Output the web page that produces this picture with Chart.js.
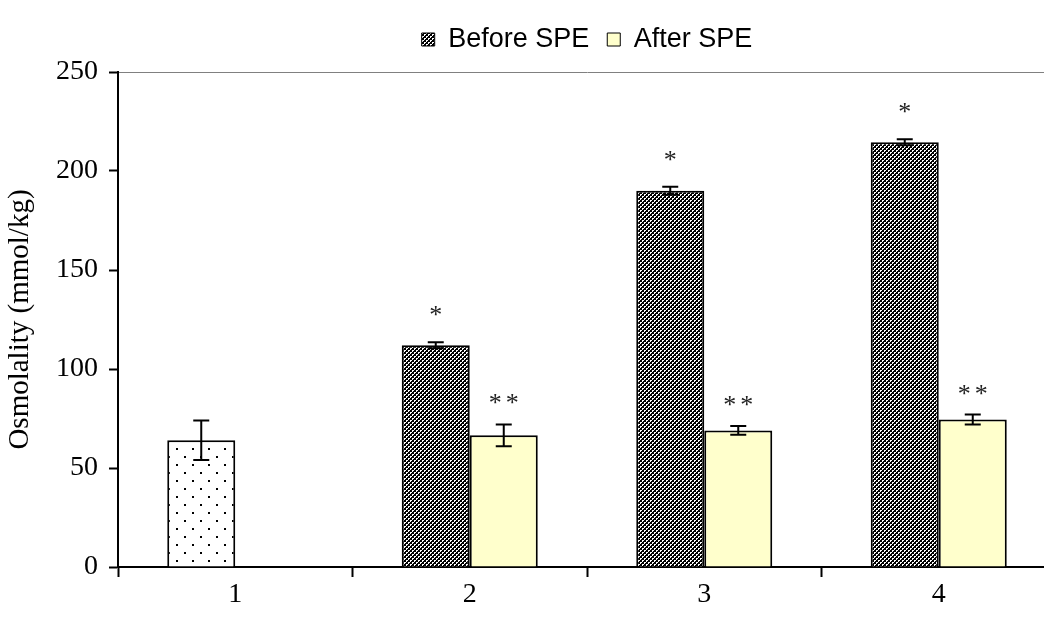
<!DOCTYPE html>
<html>
<head>
<meta charset="utf-8">
<script src="https://cdn.jsdelivr.net/npm/chart.js@4.4.0/dist/chart.umd.min.js"></script>
<style>
html,body{margin:0;padding:0;background:#fff;overflow:hidden;}
#wrap{width:1056px;height:624px;}
</style>
</head>
<body>
<div id="wrap"><canvas id="c" width="1056" height="624"></canvas></div>
<script>
// ---- data ----
const categories = ['1', '2', '3', '4'];
const beforeValues = [64, 112, 190, 214.5];
const beforeErrors = [10, 1.5, 2, 1.5];
const afterValues = [null, 66.5, 69, 74.5];
const afterErrors = [null, 5.5, 2.2, 2.5];
const beforeMarks = ['', '*', '*', '*'];
const afterMarks = ['', '**', '**', '**'];
const yTicks = [0, 50, 100, 150, 200, 250];

// ---- patterns ----
function makeChecker() {
  const c = document.createElement('canvas');
  c.width = 4; c.height = 4;
  const g = c.getContext('2d');
  g.fillStyle = '#fff'; g.fillRect(0, 0, 4, 4);
  g.fillStyle = '#000';
  for (let y = 0; y < 4; y++) for (let x = 0; x < 4; x++) {
    if ((Math.floor(x / 2) + Math.floor(y / 2)) % 2 === 0) g.fillRect(x, y, 1, 1);
  }
  g.fillRect(3, 1, 1, 1);
  g.fillRect(1, 3, 1, 1);
  return g.createPattern(c, 'repeat');
}
function makeDots() {
  const c = document.createElement('canvas');
  c.width = 16; c.height = 16;
  const g = c.getContext('2d');
  g.fillStyle = '#fff'; g.fillRect(0, 0, 16, 16);
  g.fillStyle = '#000';
  g.fillRect(0, 0, 2, 2);
  g.fillRect(8, 8, 2, 2);
  return g.createPattern(c, 'repeat');
}
const checker = makeChecker();
const dots = makeDots();
const legendFills = [checker, '#FFFFCC'];

const errorData = [beforeErrors, afterErrors];
const markData = [beforeMarks, afterMarks];

const legendSpace = {
  id: 'legendSpace',
  afterInit(chart) {
    const lg = chart.legend;
    if (lg && !lg._patched) {
      const orig = lg.fit.bind(lg);
      lg.fit = function () { orig(); this.height += 9; };
      lg._patched = true;
    }
  }
};

const errorBars = {
  id: 'errorBars',
  afterDatasetsDraw(chart) {
    const ctx = chart.ctx;
    const ys = chart.scales.y;
    ctx.save();
    chart.data.datasets.forEach((ds, di) => {
      const meta = chart.getDatasetMeta(di);
      meta.data.forEach((bar, i) => {
        const v = ds.data[i];
        const e = errorData[di][i];
        if (v == null) return;
        const x = bar.x;
        let topY = ys.getPixelForValue(v);
        if (e != null) {
          const yT = ys.getPixelForValue(v + e);
          const yB = ys.getPixelForValue(v - e);
          ctx.strokeStyle = '#000';
          ctx.lineWidth = 2;
          ctx.beginPath();
          ctx.moveTo(x, yT); ctx.lineTo(x, yB);
          ctx.moveTo(x - 8, yT); ctx.lineTo(x + 8, yT);
          ctx.moveTo(x - 8, yB); ctx.lineTo(x + 8, yB);
          ctx.stroke();
          topY = yT;
        }
        const m = markData[di][i];
        if (m) {
          ctx.fillStyle = '#222';
          ctx.font = '26px "Liberation Serif", "Times New Roman", serif';
          ctx.textAlign = 'center';
          ctx.textBaseline = 'alphabetic';
          if ('letterSpacing' in ctx) ctx.letterSpacing = m.length > 1 ? '4px' : '0px';
          const w = m.length > 1 ? 2 : 0;
          ctx.fillText(m, x + w, topY - (di === 0 ? 19 : 13));
          if ('letterSpacing' in ctx) ctx.letterSpacing = '0px';
        }
      });
    });
    ctx.restore();
  }
};

new Chart(document.getElementById('c'), {
  type: 'bar',
  data: {
    labels: categories,
    datasets: [
      {
        label: 'Before SPE',
        data: beforeValues,
        backgroundColor: (ctx) => (ctx.type === 'data' && ctx.dataIndex === 0) ? dots : checker,
        borderColor: '#000',
        borderWidth: 2,
        borderSkipped: 'start'
      },
      {
        label: 'After SPE',
        data: afterValues,
        backgroundColor: '#FFFFCC',
        borderColor: '#000',
        borderWidth: 2,
        borderSkipped: 'start'
      }
    ]
  },
  options: {
    responsive: false,
    animation: false,
    devicePixelRatio: 1,
    layout: { padding: { top: 8, left: 0, right: 0, bottom: 0 } },
    categoryPercentage: 0.58,
    barPercentage: 1.0,
    plugins: {
      legend: {
        position: 'top',
        fullSize: false,
        labels: {
          boxWidth: 13,
          boxHeight: 13,
          padding: 18,
          color: '#000',
          font: { family: '"Liberation Sans", Arial, sans-serif', size: 27 },
          generateLabels: (chart) => {
            const items = Chart.defaults.plugins.legend.labels.generateLabels(chart);
            items.forEach((it, k) => { it.fillStyle = legendFills[k]; it.strokeStyle = '#000'; it.lineWidth = 1; });
            return items;
          }
        }
      },
      tooltip: { enabled: false }
    },
    scales: {
      x: {
        grid: {
          offset: true,
          drawOnChartArea: false,
          drawTicks: true,
          tickLength: 10,
          tickColor: '#000',
          tickWidth: 2
        },
        border: { display: true, color: '#000', width: 2 },
        ticks: {
          color: '#000',
          padding: 1,
          font: { family: '"Liberation Serif", "Times New Roman", serif', size: 28 }
        },
        afterFit: (s) => { s.height = 57; }
      },
      y: {
        min: 0,
        max: 250,
        afterBuildTicks: (s) => { s.ticks = yTicks.map(v => ({ value: v })); },
        grid: {
          drawOnChartArea: true,
          color: (c) => (c.tick && c.tick.value === 250) ? '#808080' : 'rgba(0,0,0,0)',
          lineWidth: 1,
          drawTicks: true,
          tickLength: 9,
          tickColor: '#000',
          tickWidth: 2
        },
        border: { display: true, color: '#000', width: 2 },
        ticks: {
          color: '#000',
          padding: 11,
          font: { family: '"Liberation Serif", "Times New Roman", serif', size: 28 }
        },
        title: {
          display: true,
          text: 'Osmolality (mmol/kg)',
          color: '#000',
          padding: 3,
          font: { family: '"Liberation Serif", "Times New Roman", serif', size: 29 }
        },
        afterFit: (s) => { s.width = 118; }
      }
    }
  },
  plugins: [legendSpace, errorBars]
});
</script>
</body>
</html>
